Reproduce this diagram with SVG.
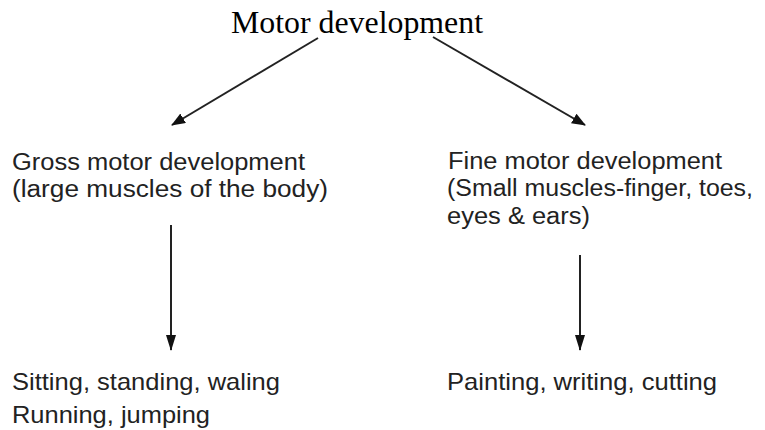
<svg xmlns="http://www.w3.org/2000/svg" width="765" height="430" viewBox="0 0 765 430">
<style>
.t{font-family:"Liberation Sans",Arial,sans-serif;font-size:23px;fill:#222}
.b{font-family:"Liberation Sans",Arial,sans-serif;font-size:24px;fill:#222}
.title{font-family:"Liberation Serif","Times New Roman",serif;font-size:31px;fill:#000}
.c{stroke:#222;stroke-width:2;fill:none}
</style>
<defs>
<marker id="ah" markerWidth="14" markerHeight="12" refX="13" refY="5.5" orient="auto" markerUnits="userSpaceOnUse"><path d="M0,0 L14,5.5 L0,11 Z" fill="#111"/></marker>
<marker id="av" markerWidth="16" markerHeight="12" refX="15" refY="5" orient="auto" markerUnits="userSpaceOnUse"><path d="M0,0 L16,5 L0,10 Z" fill="#111"/></marker>
</defs>
<g id="root"><text class="title" x="231" y="33" textLength="252" lengthAdjust="spacingAndGlyphs">Motor development</text></g>
<g id="gross"><text class="t" x="12" y="170" textLength="293" lengthAdjust="spacingAndGlyphs">Gross motor development</text><text class="t" x="12" y="197" textLength="316" lengthAdjust="spacingAndGlyphs">(large muscles of the body)</text></g>
<g id="fine"><text class="t" x="448" y="169" textLength="274" lengthAdjust="spacingAndGlyphs">Fine motor development</text><text class="t" x="447" y="196" textLength="306" lengthAdjust="spacingAndGlyphs">(Small muscles-finger, toes,</text><text class="t" x="447" y="224" textLength="143" lengthAdjust="spacingAndGlyphs">eyes &amp; ears)</text></g>
<g id="grossact"><text class="b" x="12" y="390" textLength="268" lengthAdjust="spacingAndGlyphs">Sitting, standing, waling</text><text class="b" x="12" y="423" textLength="198" lengthAdjust="spacingAndGlyphs">Running, jumping</text></g>
<g id="fineact"><text class="b" x="447" y="390" textLength="270" lengthAdjust="spacingAndGlyphs">Painting, writing, cutting</text></g>
<g id="connectors">
<line class="c" x1="318" y1="38" x2="172" y2="125" marker-end="url(#ah)"/>
<line class="c" x1="433" y1="37" x2="585" y2="125" marker-end="url(#ah)"/>
<line class="c" x1="171" y1="225" x2="171" y2="350" marker-end="url(#av)"/>
<line class="c" x1="580" y1="255" x2="580" y2="350" marker-end="url(#av)"/>
</g>
</svg>
